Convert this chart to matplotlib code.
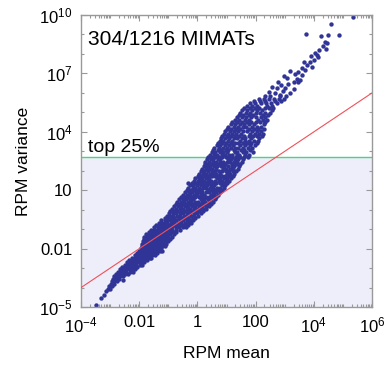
import numpy as np
import matplotlib
matplotlib.use("Agg")
import matplotlib.pyplot as plt
from matplotlib.ticker import FixedLocator, FixedFormatter, NullFormatter

plt.rcParams['font.family'] = ['Liberation Sans', 'DejaVu Sans']
plt.rcParams['mathtext.fontset'] = 'custom'
plt.rcParams['mathtext.rm'] = 'Liberation Sans'
plt.rcParams['mathtext.default'] = 'regular'

# log10(RPM variance) -> log10(RPM mean) values
rows_low = [
    (-4.89, [-3.48]),
    (-4.54, [-3.30]),
    (-4.36, [-3.22]),
    (-4.19, [-3.15]),
    (-4.05, [-3.08, -3.00]),
    (-3.92, [-3.04, -2.95]),
    (-3.80, [-2.98, -2.88]),
    (-3.68, [-2.95, -2.85, -2.76]),
    (-3.60, [-2.55]),
    (-3.55, [-2.90, -2.80, -2.70]),
    (-3.42, [-2.86, -2.76, -2.66, -2.56]),
    (-3.30, [-2.80, -2.70, -2.60, -2.50, -2.38]),
    (-3.18, [-2.74, -2.64, -2.54, -2.44, -2.32, -2.22]),
    (-3.06, [-2.66, -2.56, -2.46, -2.36, -2.26, -2.15]),
    (-2.94, [-2.58, -2.48, -2.38, -2.28, -2.18, -2.07]),
    (-2.82, [-2.50, -2.40, -2.30, -2.20, -2.10, -1.98, -1.90]),
    (-2.70, [-2.42, -2.32, -2.22, -2.12, -2.02, -1.92, -1.84]),
    (-2.58, [-2.34, -2.24, -2.14, -2.04, -1.94, -1.84, -1.74]),
    (-2.46, [-2.24, -2.14, -2.04, -1.94, -1.84, -1.74, -1.64, -1.58]),
    (-2.34, [-2.15, -2.05, -1.95, -1.85, -1.75, -1.65, -1.55, -1.45]),
    (-2.22, [-2.08, -1.98, -1.88, -1.78, -1.68, -1.58, -1.48, -1.38]),
    (-2.10, [-2.00, -1.90, -1.80, -1.70, -1.60, -1.50, -1.40, -1.30, -1.22]),
    (-1.98, [-1.94, -1.84, -1.74, -1.64, -1.54, -1.44, -1.34, -1.24]),
    (-1.86, [-1.92, -1.82, -1.72, -1.62, -1.52, -1.42, -1.32, -1.22, -1.12]),
    (-1.74, [-1.90, -1.80, -1.70, -1.60, -1.50, -1.40, -1.30, -1.20, -1.08]),
    (-1.62, [-1.88, -1.78, -1.68, -1.58, -1.48, -1.38, -1.28, -1.18, -1.08, -1.00]),
    (-1.50, [-1.84, -1.74, -1.64, -1.54, -1.44, -1.34, -1.24, -1.14, -1.04, -0.94]),
    (-1.38, [-1.82, -1.72, -1.62, -1.52, -1.42, -1.32, -1.22, -1.12, -1.00, -0.88]),
    (-1.26, [-1.76, -1.66, -1.56, -1.46, -1.36, -1.26, -1.16, -1.06, -0.94, -0.82]),
    (-1.14, [-1.68, -1.58, -1.48, -1.38, -1.28, -1.18, -1.08, -0.96, -0.84, -0.72]),
    (-1.02, [-1.58, -1.48, -1.38, -1.28, -1.18, -1.08, -0.98, -0.86, -0.74, -0.60]),
]

rows_mid = [
    (-0.90, [-1.49, -1.37, -1.29, -1.17, -1.08, -0.97, -0.89, -0.75, -0.65, -0.51, -0.40]),
    (-0.78, [-1.42, -1.30, -1.21, -1.10, -0.99, -0.91, -0.77, -0.67, -0.53, -0.43, -0.33]),
    (-0.66, [-1.33, -1.23, -1.11, -1.03, -0.91, -0.81, -0.67, -0.57, -0.44, -0.31, -0.22]),
    (-0.54, [-1.25, -1.13, -1.05, -0.93, -0.83, -0.73, -0.59, -0.49, -0.35, -0.25, -0.15]),
    (-0.42, [-1.12, -1.01, -0.89, -0.79, -0.65, -0.55, -0.41, -0.31, -0.17, -0.07]),
    (-0.30, [-1.05, -0.93, -0.83, -0.69, -0.59, -0.45, -0.35, -0.21, -0.11, 0.01]),
    (-0.18, [-0.99, -0.85, -0.75, -0.61, -0.51, -0.37, -0.27, -0.13, -0.03, 0.11]),
    (-0.06, [-0.93, -0.79, -0.69, -0.55, -0.45, -0.31, -0.21, -0.07, 0.05, 0.19]),
    (0.06, [-0.87, -0.75, -0.61, -0.51, -0.37, -0.27, -0.13, -0.03, 0.11, 0.21, 0.31]),
    (0.18, [-0.81, -0.67, -0.57, -0.43, -0.33, -0.19, -0.09, 0.05, 0.15, 0.29, 0.39]),
    (0.30, [-0.75, -0.61, -0.51, -0.37, -0.27, -0.13, -0.01, 0.11, 0.21, 0.35, 0.47]),
    (0.42, [-0.70, -0.55, -0.45, -0.31, -0.21, -0.07, 0.03, 0.17, 0.27, 0.41, 0.53]),
    (0.54, [-0.63, -0.49, -0.39, -0.25, -0.15, 0.11, 0.21, 0.35, 0.45, 0.59]),
    (0.66, [-0.58, -0.43, -0.33, -0.19, -0.09, 0.05, 0.15, 0.29, 0.39, 0.53, 0.63]),
    (0.78, [-0.51, -0.37, -0.27, -0.13, -0.01, 0.11, 0.23, 0.47, 0.57, 0.71]),
    (0.90, [-0.44, -0.29, -0.19, -0.05, 0.07, 0.17, 0.31, 0.41, 0.55, 0.65, 0.79]),
    (1.02, [-0.37, -0.23, -0.11, 0.01, 0.13, 0.37, 0.49, 0.59, 0.73, 0.85]),
    (1.14, [-0.31, -0.17, -0.07, 0.07, 0.19, 0.29, 0.43, 0.53, 0.67, 0.77, 0.91]),
    (1.26, [-0.25, -0.15, -0.01, 0.11, 0.23, 0.33, 0.47, 0.57, 0.83, 0.95]),
    (1.38, [-0.33, -0.19, -0.09, 0.05, 0.15, 0.29, 0.41, 0.53, 0.63, 0.77, 0.87, 1.01]),
    (1.50, [-0.11, 0.01, 0.13, 0.23, 0.37, 0.47, 0.61, 0.73, 0.83, 0.97, 1.09]),
    (1.62, [-0.07, 0.07, 0.17, 0.31, 0.41, 0.67, 0.77, 0.91, 1.01, 1.15]),
    (1.74, [0.01, 0.11, 0.25, 0.35, 0.49, 0.61, 0.71, 0.85, 0.95, 1.09, 1.21]),
    (1.86, [0.05, 0.19, 0.29, 0.43, 0.55, 0.65, 0.79, 1.03, 1.13, 1.27]),
    (1.98, [0.13, 0.23, 0.37, 0.49, 0.59, 0.73, 0.83, 0.97, 1.07, 1.21, 1.31]),
    (2.10, [0.15, 0.29, 0.41, 0.51, 0.65, 0.89, 0.99, 1.13, 1.23, 1.39]),
    (2.22, [0.21, 0.33, 0.43, 0.57, 0.67, 0.81, 0.91, 1.05, 1.17, 1.27, 1.43]),
    (2.34, [0.25, 0.35, 0.49, 0.59, 0.73, 0.85, 0.95, 1.19, 1.33, 1.45]),
    (2.46, [0.27, 0.41, 0.53, 0.63, 0.77, 0.87, 1.01, 1.11, 1.25, 1.37, 1.53]),
    (2.58, [0.33, 0.45, 0.55, 0.69, 0.79, 1.05, 1.15, 1.29, 1.41, 1.57]),
    (2.70, [0.37, 0.47, 0.61, 0.73, 0.83, 0.97, 1.09, 1.19, 1.33, 1.45, 1.61, 1.73]),
]

rows_high = [
    (2.82, [0.42, 0.57, 0.66, 0.83, 0.94, 1.09, 1.18, 1.35, 1.44, 1.63, 1.76]),
    (2.94, [0.50, 0.60, 0.77, 0.88, 1.03, 1.28, 1.37, 1.56, 1.66, 1.92]),
    (3.06, [0.54, 0.69, 0.80, 0.97, 1.06, 1.24, 1.50, 1.61, 1.82]),
    (3.18, [0.58, 0.74, 0.89, 1.00, 1.16, 1.30, 1.40, 1.58, 1.72, 1.86]),
    (3.30, [0.66, 0.77, 0.95, 1.08, 1.21, 1.46, 1.62, 1.80, 1.98]),
    (3.42, [0.70, 0.86, 0.99, 1.14, 1.28, 1.38, 1.57, 1.70, 1.84, 2.03]),
    (3.54, [0.78, 0.88, 1.05, 1.20, 1.47, 1.62, 1.78, 1.93, 2.07]),
    (3.66, [0.82, 0.96, 1.10, 1.24, 1.36, 1.52, 1.64, 1.84, 2.12]),
    (3.78, [0.86, 1.02, 1.15, 1.30, 1.44, 1.60, 1.76, 1.90, 2.03, 2.22]),
    (3.90, [0.92, 1.05, 1.20, 1.33, 1.50, 1.80, 1.97, 2.11, 2.25]),
    (4.02, [0.96, 1.12, 1.26, 1.41, 1.57, 1.70, 1.88, 2.05, 2.19]),
    (4.14, [1.02, 1.15, 1.32, 1.47, 1.78, 1.95, 2.08, 2.27]),
    (4.26, [1.06, 1.24, 1.38, 1.55, 1.68, 1.86, 2.03, 2.18]),
    (4.38, [1.14, 1.28, 1.46, 1.61, 1.77, 1.93, 2.27]),
    (4.50, [1.18, 1.37, 1.52, 1.69, 1.85, 2.01, 2.15, 2.33]),
    (4.62, [1.29, 1.43, 1.62, 1.77, 2.09, 2.25, 2.38]),
    (4.74, [1.35, 1.54, 1.68, 1.85, 2.01, 2.17, 2.33]),
    (4.86, [1.43, 1.58, 1.77, 1.92, 2.24, 2.42]),
    (4.98, [1.47, 1.66, 1.82, 2.00, 2.14, 2.31, 2.49]),
    (5.10, [1.54, 1.70, 1.89, 2.05, 2.22, 2.55]),
    (5.22, [1.60, 1.79, 1.96, 2.13, 2.31, 2.46, 2.61]),
    (5.34, [1.71, 1.87, 2.05, 2.40, 2.57]),
    (5.46, [1.80, 1.99, 2.17, 2.35, 2.53, 2.72]),
    (5.58, [1.95, 2.15, 2.33, 2.66, 2.88]),
    (5.70, [2.10, 2.29, 2.47, 2.63, 2.81, 2.97]),
    (5.82, [2.31, 2.49, 2.85]),
]

# sparse points at the top end of the cloud
top_mean = [2.67, 2.95, 3.18, 2.72, 3.01, 3.30, 2.78, 3.30, 3.47, 3.41, 3.53, 3.07,
            3.58, 3.18, 3.70, 3.58, 3.93, 3.76, 3.87, 3.89, 4.10, 4.15, 4.18, 4.41,
            4.38, 4.44, 4.25, 4.48, 4.86, 3.73, 4.58, 5.34, 2.45, 2.55, 2.88, 3.10,
            2.98, 3.35, 3.45, 3.65, 4.00, 4.05, 4.30, 2.85, 3.05]
top_var = [5.98, 6.10, 5.98, 6.24, 6.24, 6.20, 6.54, 6.57, 6.54, 6.71, 6.66, 6.75,
           6.92, 7.14, 7.18, 7.29, 7.34, 7.43, 7.57, 7.88, 7.95, 7.84, 8.20, 8.24,
           8.63, 8.58, 8.91, 8.96, 8.99, 9.02, 9.54, 9.88, 6.05, 6.30, 6.40, 6.45,
           6.85, 6.95, 7.05, 7.60, 7.70, 8.05, 8.40, 5.90, 5.85]

top_cut = 490           # variance threshold of the top 25%
label_count = "304/1216 MIMATs"

x_ticks = [1e-4, 1e-2, 1, 1e2, 1e4, 1e6]
x_labels = ["$10^{-4}$", "0.01", "1", "100", "$10^{4}$", "$10^{6}$"]
y_ticks = [1e-5, 1e-2, 10, 1e4, 1e7, 1e10]
y_labels = ["$10^{-5}$", "0.01", "10", "$10^{4}$", "$10^{7}$", "$10^{10}$"]

lm, lv = [], []
for rows in (rows_low, rows_mid, rows_high):
    for v, ms in rows:
        lm += ms
        lv += [v] * len(ms)
lm += top_mean
lv += top_var
rpm_mean = 10.0 ** np.array(lm)
rpm_var = 10.0 ** np.array(lv)

fig = plt.figure(figsize=(3.84, 3.66), dpi=100)
ax = fig.add_axes([0.211, 0.161, 0.758, 0.798])
ax.set_xscale('log')
ax.set_yscale('log')
ax.set_xlim(1e-4, 1e6)
ax.set_ylim(1e-5, 1e10)

ax.axhspan(1e-5, top_cut, color='#EEEEFA', lw=0, zorder=0)
ax.axhline(top_cut, color='#46D680', lw=1.0, zorder=1)
ax.plot([1e-4, 1e6], [1e-4, 1e6], color='#F0505A', lw=0.8, zorder=3)
ax.scatter(rpm_mean, rpm_var, s=10, color='#2F3496', linewidths=0, zorder=2)

ax.text(0.024, 0.897, label_count, transform=ax.transAxes, fontsize=15,
        ha='left', va='baseline')
ax.text(0.024, 0.532, "top 25%", transform=ax.transAxes, fontsize=14,
        ha='left', va='baseline')

ax.xaxis.set_major_locator(FixedLocator(x_ticks))
ax.xaxis.set_major_formatter(FixedFormatter(x_labels))
ax.yaxis.set_major_locator(FixedLocator(y_ticks))
ax.yaxis.set_major_formatter(FixedFormatter(y_labels))
ax.xaxis.set_minor_locator(FixedLocator(
    [m * 10.0 ** e for e in range(-4, 6) for m in range(2, 10)] + [10.0 ** e for e in range(-3, 6, 2)]))
ax.yaxis.set_minor_locator(FixedLocator([10.0 ** e for e in range(-5, 10)]))
ax.xaxis.set_minor_formatter(NullFormatter())
ax.yaxis.set_minor_formatter(NullFormatter())

ax.tick_params(which='both', direction='in', top=True, right=True, color='#999999',
               labelsize=12, width=0.8)
ax.tick_params(which='major', length=4, pad=6)
ax.tick_params(which='minor', length=2)
for sp in ax.spines.values():
    sp.set_color('#999999')
    sp.set_linewidth(1.0)

ax.set_xlabel("RPM mean", fontsize=12.5, labelpad=8)
ax.set_ylabel("RPM variance", fontsize=12.5, labelpad=6)

fig.savefig("out.png", dpi=100)
